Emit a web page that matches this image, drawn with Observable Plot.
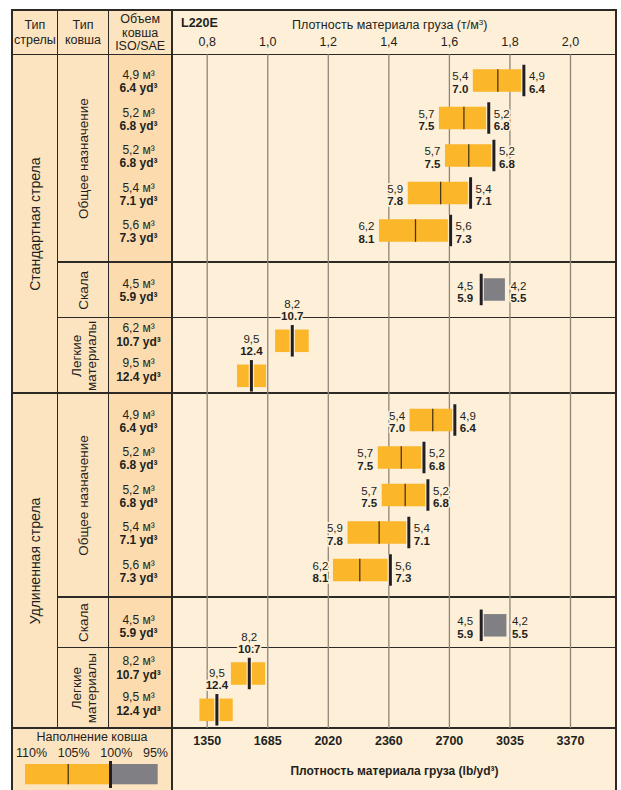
<!DOCTYPE html>
<html><head><meta charset="utf-8">
<script src="https://cdn.jsdelivr.net/npm/d3@7"></script>
<script src="https://cdn.jsdelivr.net/npm/@observablehq/plot@0.6"></script>
<style>
body{margin:0;background:#fff;}
#wrap{position:relative;width:621px;height:790px;overflow:hidden;font-family:"Liberation Sans",Arial,sans-serif;color:#231f20;font-size:12px;}
.a{position:absolute;}
.c{text-align:center;}
</style></head><body><div id="wrap"></div>
<script>
// ---------------- DATA ----------------
const boomTypes   = ["Стандартная стрела", "Удлиненная стрела"];
const bucketTypes = ["Общее назначение", "Скала", "Легкие\nматериалы"];
const rowBoom   = [0,0,0,0,0,0,0,0, 1,1,1,1,1,1,1,1];
const rowBucket = [0,0,0,0,0,1,2,2, 0,0,0,0,0,1,2,2];
const volM3  = ["4,9","5,2","5,2","5,4","5,6","4,5","6,2","9,5",  "4,9","5,2","5,2","5,4","5,6","4,5","8,2","9,5"];
const volYd3 = ["6.4","6.8","6.8","7.1","7.3","5.9","10.7","12.4", "6.4","6.8","6.8","7.1","7.3","5.9","10.7","12.4"];
// density (t/m3)
const yellowFrom = [1.679,1.567,1.587,1.464,1.369,null,1.026,0.900, 1.470,1.365,1.378,1.265,1.217,null,0.880,0.776];
const yellowTo   = [1.846,1.730,1.747,1.670,1.604,null,1.137,0.996, 1.618,1.516,1.529,1.466,1.405,null,0.993,0.886];
const dens105    = [1.760,1.648,1.664,1.571,1.488,null,null,null,   1.545,1.441,1.454,1.368,1.304,null,null,null];
const dens100    = [1.846,1.730,1.747,1.670,1.604,1.705,1.081,0.946, 1.618,1.516,1.529,1.466,1.405,1.705,0.939,0.832];
const dens95     = [null,null,null,null,null,1.785,null,null,       null,null,null,null,null,1.790,null,null];
// labels next to the bars
const leftM3   = ["5,4","5,7","5,7","5,9","6,2","4,5",null,null, "5,4","5,7","5,7","5,9","6,2","4,5",null,null];
const leftYd3  = ["7.0","7.5","7.5","7.8","8.1","5.9",null,null, "7.0","7.5","7.5","7.8","8.1","5.9",null,null];
const rightM3  = ["4,9","5,2","5,2","5,4","5,6","4,2",null,null, "4,9","5,2","5,2","5,4","5,6","4,2",null,null];
const rightYd3 = ["6.4","6.8","6.8","7.1","7.3","5.5",null,null, "6.4","6.8","6.8","7.1","7.3","5.5",null,null];
const topM3    = [null,null,null,null,null,null,"8,2","9,5", null,null,null,null,null,null,"8,2","9,5"];
const topYd3   = [null,null,null,null,null,null,"10.7","12.4", null,null,null,null,null,null,"10.7","12.4"];
// axis ticks
const ticks     = [0.8, 1.0, 1.2, 1.4, 1.6, 1.8, 2.0];
const ticksTop  = ["0,8","1,0","1,2","1,4","1,6","1,8","2,0"];
const ticksLb   = ["1350","1685","2020","2360","2700","3035","3370"];
const legendStops  = [110, 105, 100, 95];
const legendLabels = ["110%","105%","100%","95%"];

// ---------------- LAYOUT / STYLE ----------------
const FONT = "'Liberation Sans',Arial,sans-serif";
const YELLOW="#fcb62a", GRAY="#808084", INK="#231f20", BG="#fdefd8", GRID="#8e8578", LINE="#2d2925";
const COLBG="#fde4c1", VOLBG="#fcdcae";
const X0=12, X1=57.7, X2=108.3, X3=172, XR=616, YT=10, YH=54.3, YB=728;
const GROUP_BOUNDS = [54.3, 262, 317.7, 393, 597, 647.3, 728];
const ROW_FIRST = [26.2, 27.5, 23.1, 27, 28.3, 26.2];
const ROW_PITCH = [37.5, 0, 35, 37.5, 0, 36.3];
const VOL_SHIFT = [[-5.5, 7.5], [-6, 7], [-12.8, 0.7]];
const BAR_H = 22.5, MARK_H = 31.5, FS = 11.5, VFS = 12;

const counters = {};
const rows = volM3.map((m3, i) => {
  const g = rowBoom[i]*3 + rowBucket[i];
  const k = counters[g] = (counters[g] ?? -1) + 1;
  const cy = GROUP_BOUNDS[g] + ROW_FIRST[g] + k*ROW_PITCH[g];
  return {i, g, bucket: rowBucket[i], cy, m3, yd3: volYd3[i],
    from: yellowFrom[i], to: yellowTo[i], d105: dens105[i], d100: dens100[i], d95: dens95[i],
    lM3: leftM3[i], lYd3: leftYd3[i], rM3: rightM3[i], rYd3: rightYd3[i], tM3: topM3[i], tYd3: topYd3[i]};
});
const general = rows.filter(r => r.bucket === 0);
const rock = rows.filter(r => r.bucket === 1);
const light = rows.filter(r => r.bucket === 2);
const groups = d3.range(6).map(g => ({mid: (GROUP_BOUNDS[g] + GROUP_BOUNDS[g+1]) / 2, label: bucketTypes[g % 3]}));
const booms = boomTypes.map((label, b) => ({mid: (GROUP_BOUNDS[b*3] + GROUP_BOUNDS[b*3+3]) / 2, label}));

// ---------------- HTML TABLE FRAME ----------------
const wrap = document.getElementById("wrap");
function box(l, t, w, h, bg, extra) {
  const d = document.createElement("div");
  d.className = "a";
  Object.assign(d.style, {left: l+"px", top: t+"px", width: w+"px", height: h+"px", background: bg}, extra || {});
  wrap.appendChild(d); return d;
}
function txt(l, t, w, html, style) {
  const d = document.createElement("div");
  d.className = "a c";
  Object.assign(d.style, {left: l+"px", top: t+"px", width: w+"px"}, style || {});
  d.innerHTML = html; wrap.appendChild(d); return d;
}
box(X0, YT, XR-X0, 790-YT, BG);
box(X0, YT, X3-X0, YH-YT, COLBG);
box(X0, YH, X2-X0, YB-YH, COLBG);
box(X2, YH, X3-X2, YB-YH, VOLBG);
box(X0, YB, X3-X0, 790-YB, COLBG);
// borders
box(X0-0.75, YT-0.75, XR-X0+1.5, 1.5, LINE);
box(X0-0.75, YT, 1.5, 790-YT, LINE);
box(XR-0.75, YT, 1.5, 790-YT, LINE);
box(X1-0.75, YT, 1.5, YB-YT, LINE);
box(X2-0.75, YT, 1.5, YB-YT, LINE);
box(X3-0.75, YT, 1.5, 790-YT, LINE);
box(X0, YH-0.75, XR-X0, 1.5, LINE);
box(X0, GROUP_BOUNDS[3]-1, XR-X0, 2, LINE);
box(X0, YB-1, XR-X0, 2, LINE);
[1,2,4,5].forEach(g => box(X1, GROUP_BOUNDS[g]-0.6, XR-X1, 1.2, LINE));
// header texts
txt(X0, 17.5, X1-X0, "Тип<br>стрелы", {lineHeight: "15px", fontSize: "12.5px"});
txt(X1, 17.5, X2-X1, "Тип<br>ковша", {lineHeight: "15px", fontSize: "12.5px"});
txt(X2, 13.4, X3-X2, "Объем<br>ковша<br>ISO/SAE", {lineHeight: "13.3px", fontSize: "12.5px"});
txt(181, 15, 60, "L220E", {textAlign: "left", fontWeight: "bold", lineHeight: "16px", fontSize: "12.5px"});
txt(292, 15, 200, "Плотность материала груза (т/м<sup style='font-size:8px;vertical-align:4px'>3</sup>)", {textAlign: "left", lineHeight: "16px", fontSize: "12.5px"});
// legend texts
txt(X0, 730, X3-X0, "Наполнение ковша", {lineHeight: "15px", fontSize: "12.5px"});
const lr = txt(16, 746, 152, "", {lineHeight: "15px", fontSize: "12.5px", display: "flex", justifyContent: "space-between"});
legendLabels.forEach(s => { const sp = document.createElement("span"); sp.textContent = s; lr.appendChild(sp); });

// ---------------- MAIN PLOT ----------------
const halo = {stroke: BG, strokeWidth: 3.5, paintOrder: "stroke", fill: INK, fontSize: FS};
const chart = Plot.plot({
  width: 621, height: 790,
  marginTop: YH, marginBottom: 790 - YB, marginLeft: X3, marginRight: 621 - XR,
  x: {type: "linear", domain: [0.8 - (206.7 - X3)/302.75, 0.8 + (XR - 206.7)/302.75], range: [X3, XR]},
  y: {type: "linear", domain: [YH, YB], range: [YH, YB], axis: null},
  style: {background: "transparent", fontFamily: FONT, fontSize: "12.5px", color: INK, overflow: "visible"},
  marks: [
    Plot.ruleX(ticks, {stroke: GRID, strokeWidth: 1.3}),
    Plot.axisX(ticks, {anchor: "top", tickSize: 0, tickPadding: 9, label: null, fill: INK,
      tickFormat: d => ticksTop[ticks.indexOf(d)], fontSize: 12.5}),
    Plot.axisX(ticks, {anchor: "bottom", tickSize: 0, tickPadding: 8, label: null, fill: INK, fontWeight: "bold",
      tickFormat: d => ticksLb[ticks.indexOf(d)], fontSize: 12.5}),
    Plot.text(["Плотность материала груза (lb/yd³)"], {frameAnchor: "bottom", dy: 46, text: d => d, fontWeight: "bold", fontSize: 12, fill: INK}),
    // bars
    Plot.rect(rows.filter(r => r.from != null), {x1: "from", x2: "to", y1: r => r.cy - BAR_H/2, y2: r => r.cy + BAR_H/2, fill: YELLOW}),
    Plot.rect(rock, {x1: "d100", x2: "d95", y1: r => r.cy - BAR_H/2, y2: r => r.cy + BAR_H/2, fill: GRAY}),
    Plot.ruleX(general, {x: "d105", y1: r => r.cy - BAR_H/2, y2: r => r.cy + BAR_H/2, stroke: "#4b3612", strokeWidth: 1.3}),
    Plot.ruleX(rows, {x: "d100", y1: r => r.cy - MARK_H/2, y2: r => r.cy + MARK_H/2, stroke: "#fff6e8", strokeWidth: 5.5, strokeOpacity: 0.8}),
    Plot.ruleX(rows, {x: "d100", y1: r => r.cy - MARK_H/2, y2: r => r.cy + MARK_H/2, stroke: INK, strokeWidth: 3}),
    // bar labels: general
    Plot.text(general, {x: "from", y: "cy", text: "lM3", textAnchor: "end", dx: -5, dy: -4.5, ...halo}),
    Plot.text(general, {x: "from", y: "cy", text: "lYd3", textAnchor: "end", dx: -5, dy: 8, fontWeight: "bold", ...halo}),
    Plot.text(general, {x: "d100", y: "cy", text: "rM3", textAnchor: "start", dx: 5, dy: -4.5, ...halo}),
    Plot.text(general, {x: "d100", y: "cy", text: "rYd3", textAnchor: "start", dx: 5, dy: 8, fontWeight: "bold", ...halo}),
    // rock
    Plot.text(rock, {x: "d100", y: "cy", text: "lM3", textAnchor: "end", dx: -8, dy: -4, ...halo}),
    Plot.text(rock, {x: "d100", y: "cy", text: "lYd3", textAnchor: "end", dx: -8, dy: 8.5, fontWeight: "bold", ...halo}),
    Plot.text(rock, {x: "d95", y: "cy", text: "rM3", textAnchor: "start", dx: 5, dy: -4, ...halo}),
    Plot.text(rock, {x: "d95", y: "cy", text: "rYd3", textAnchor: "start", dx: 5, dy: 8.5, fontWeight: "bold", ...halo}),
    // light
    Plot.text(light, {x: "d100", y: "cy", text: "tM3", dy: -37, ...halo}),
    Plot.text(light, {x: "d100", y: "cy", text: "tYd3", dy: -24.5, fontWeight: "bold", ...halo}),
    // volume column
    Plot.text(rows, {frameAnchor: "left", textAnchor: "middle", y: r => r.cy + VOL_SHIFT[r.bucket][0], text: r => r.m3 + " м³", dx: -34, fill: INK, fontSize: VFS}),
    Plot.text(rows, {frameAnchor: "left", textAnchor: "middle", y: r => r.cy + VOL_SHIFT[r.bucket][1], text: r => r.yd3 + " yd³", dx: -34, fill: INK, fontSize: VFS, fontWeight: "bold"}),
    // rotated group labels
    Plot.text(groups, {frameAnchor: "left", textAnchor: "middle", y: "mid", text: "label", rotate: -90, dx: -(X3 - (X1 + X2)/2), fill: INK, fontSize: 13.5, lineHeight: 1.12}),
    Plot.text(booms, {frameAnchor: "left", textAnchor: "middle", y: "mid", text: "label", rotate: -90, dx: -(X3 - (X0 + X1)/2), fill: INK, fontSize: 14})
  ]
});
chart.style.position = "absolute"; chart.style.left = "0px"; chart.style.top = "0px";
wrap.appendChild(chart);

// ---------------- LEGEND ----------------
const legend = Plot.plot({
  width: X3 - X0, height: 790 - YB, margin: 0,
  x: {type: "linear", domain: legendStops, range: [13, 55.7, 98, 145.7], axis: null},
  y: {type: "linear", domain: [0, 62], range: [0, 62], axis: null},
  style: {background: "transparent", overflow: "visible"},
  marks: [
    Plot.rect([[110, 100]], {x1: d => d[0], x2: d => d[1], y1: 36, y2: 56.3, fill: YELLOW}),
    Plot.rect([[100, 95]], {x1: d => d[0], x2: d => d[1], y1: 36, y2: 56.3, fill: GRAY}),
    Plot.ruleX([105], {y1: 36, y2: 56.3, stroke: "#3a2a10", strokeWidth: 1.2}),
    Plot.ruleX([100], {y1: 33, y2: 60, stroke: INK, strokeWidth: 3})
  ]
});
legend.style.position = "absolute"; legend.style.left = X0 + "px"; legend.style.top = YB + "px";
wrap.appendChild(legend);
</script></body></html>
